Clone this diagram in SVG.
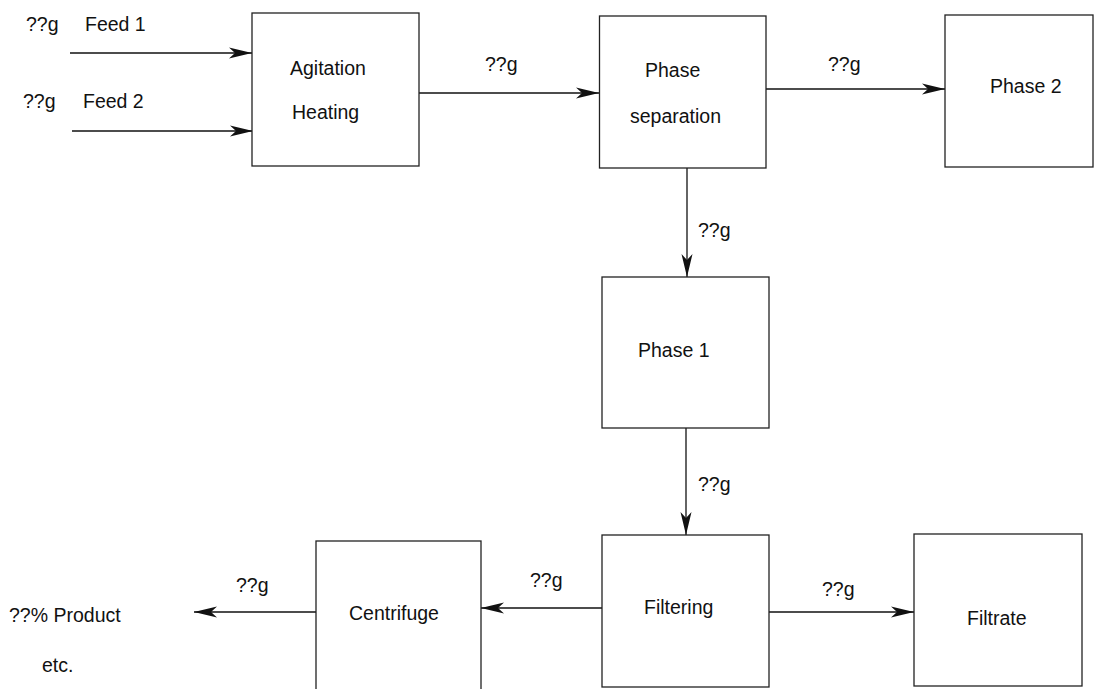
<svg xmlns="http://www.w3.org/2000/svg" width="1101" height="689" viewBox="0 0 1101 689">
<style>
.box{fill:#fff;stroke:#222;stroke-width:1.3}
.ln{fill:none;stroke:#111;stroke-width:1.3;marker-end:url(#ah)}
text{font-family:"Liberation Sans",Arial,sans-serif;font-size:19.5px;fill:#111}
</style>
<defs>
<marker id="ah" markerUnits="userSpaceOnUse" markerWidth="26" markerHeight="14" viewBox="-24 -7 26 14" refX="0" refY="0" orient="auto">
<path d="M0,0 L-23,-5.5 L-17,0 L-23,5.5 Z" fill="#111"/>
</marker>
</defs>
<rect width="1101" height="689" fill="#fff"/>
<g id="connectors">
<line class="ln" x1="70" y1="53" x2="252" y2="53"/>
<line class="ln" x1="72" y1="131" x2="253" y2="131"/>
<line class="ln" x1="419" y1="93" x2="599" y2="93"/>
<line class="ln" x1="766" y1="89" x2="945" y2="89"/>
<line class="ln" x1="687" y1="168" x2="687" y2="277"/>
<line class="ln" x1="686" y1="428" x2="686" y2="535"/>
<line class="ln" x1="602" y1="608" x2="481" y2="608"/>
<line class="ln" x1="316" y1="612" x2="194" y2="612"/>
<line class="ln" x1="769" y1="612" x2="914" y2="612"/>
</g>
<g id="feed-labels">
<text x="26" y="31">??g</text>
<text x="85" y="31">Feed 1</text>
<text x="23" y="108">??g</text>
<text x="83" y="108">Feed 2</text>
</g>
<g id="agitation">
<rect class="box" x="252" y="13" width="167" height="153"/>
<text x="290" y="75">Agitation</text>
<text x="292" y="119">Heating</text>
</g>
<g id="phase-separation">
<rect class="box" x="599.5" y="16" width="166.5" height="152"/>
<text x="645" y="77">Phase</text>
<text x="630" y="123">separation</text>
</g>
<g id="phase2">
<rect class="box" x="945" y="15" width="148" height="152"/>
<text x="990" y="93">Phase 2</text>
</g>
<g id="phase1">
<rect class="box" x="602" y="277" width="167" height="151"/>
<text x="638" y="357">Phase 1</text>
</g>
<g id="filtering">
<rect class="box" x="602" y="535" width="167" height="152"/>
<text x="644" y="614">Filtering</text>
</g>
<g id="filtrate">
<rect class="box" x="914" y="534" width="168" height="152"/>
<text x="967" y="625">Filtrate</text>
</g>
<g id="centrifuge">
<rect class="box" x="316" y="541" width="165" height="160"/>
<text x="349" y="620">Centrifuge</text>
</g>
<g id="product">
<text x="9" y="622">??% Product</text>
<text x="42" y="672">etc.</text>
</g>
<g id="flow-labels">
<text x="485" y="71">??g</text>
<text x="828" y="71">??g</text>
<text x="698" y="237">??g</text>
<text x="698" y="491">??g</text>
<text x="530" y="587">??g</text>
<text x="236" y="592">??g</text>
<text x="822" y="596">??g</text>
</g>
</svg>
